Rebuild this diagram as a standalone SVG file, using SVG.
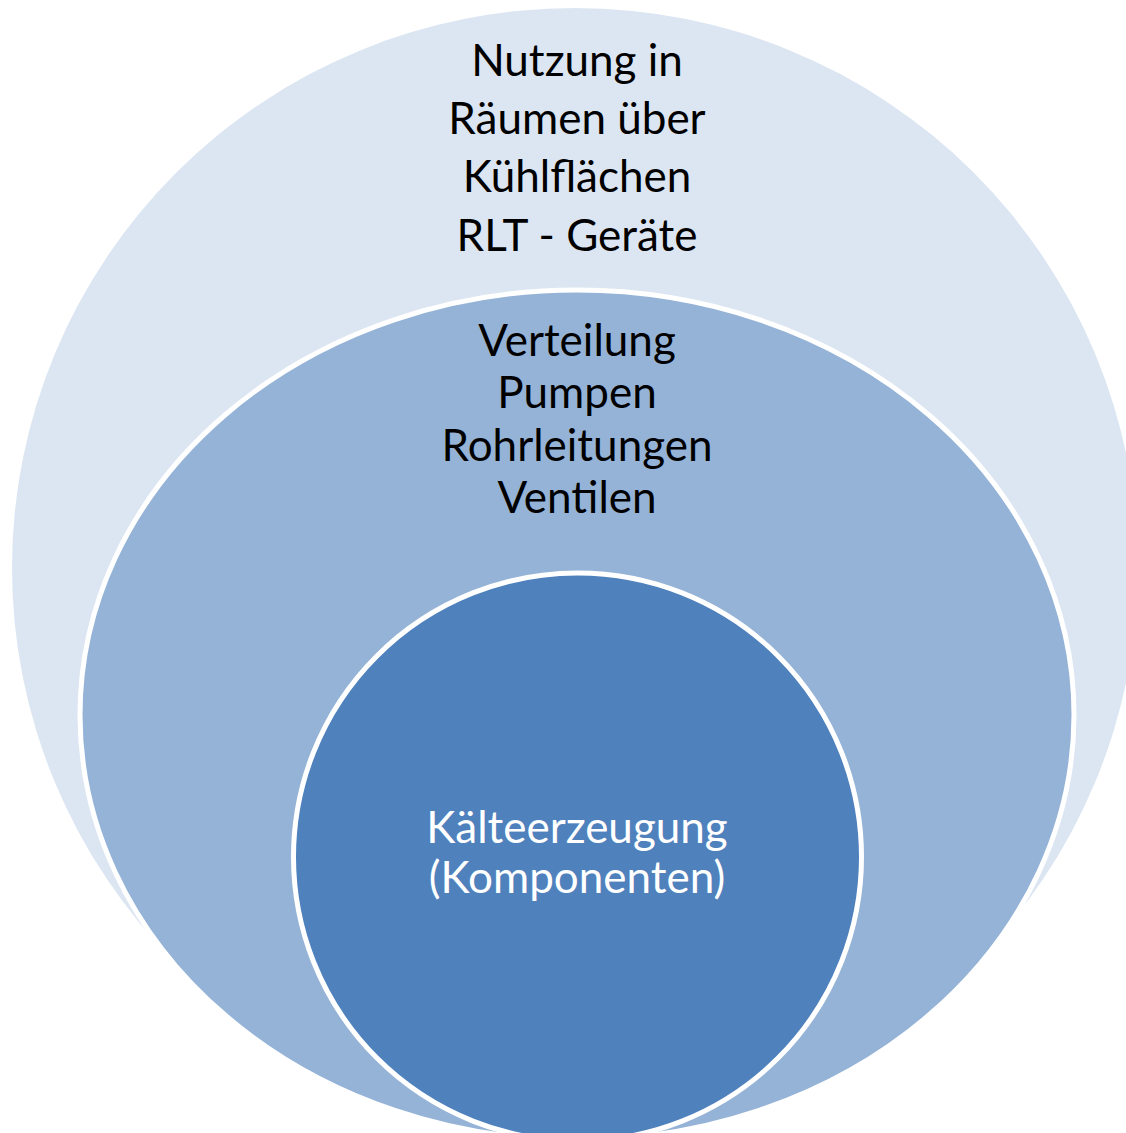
<svg xmlns="http://www.w3.org/2000/svg" width="1126" height="1133" viewBox="0 0 1126 1133">
<style>
.t{font-family:Lato,"Noto Sans","Liberation Sans",sans-serif;font-size:44px;text-anchor:middle}
.dark{fill:#000}
.light{fill:#fff}
.ring{stroke:#fff;stroke-width:5}
</style>
<rect width="1126" height="1133" fill="#fff"/>
<g id="outer">
<ellipse cx="575" cy="568" rx="563" ry="560" fill="#DCE6F2"/>
<text class="t dark" x="577" y="76">Nutzung in</text>
<text class="t dark" x="577" y="134">Räumen über</text>
<text class="t dark" x="577" y="192">Kühlflächen</text>
<text class="t dark" x="577" y="251">RLT - Geräte</text>
</g>
<g id="middle">
<ellipse class="ring" cx="577" cy="715" rx="497" ry="425" fill="#95B3D7"/>
<text class="t dark" x="577" y="356">Verteilung</text>
<text class="t dark" x="577" y="408">Pumpen</text>
<text class="t dark" x="577" y="461">Rohrleitungen</text>
<text class="t dark" x="577" y="513">Ventilen</text>
</g>
<g id="inner">
<circle class="ring" cx="577.5" cy="857" r="284" fill="#4F81BD"/>
<text class="t light" x="577" y="843">Kälteerzeugung</text>
<text class="t light" x="577" y="893">(Komponenten)</text>
</g>
<g id="connectors"/>
</svg>
